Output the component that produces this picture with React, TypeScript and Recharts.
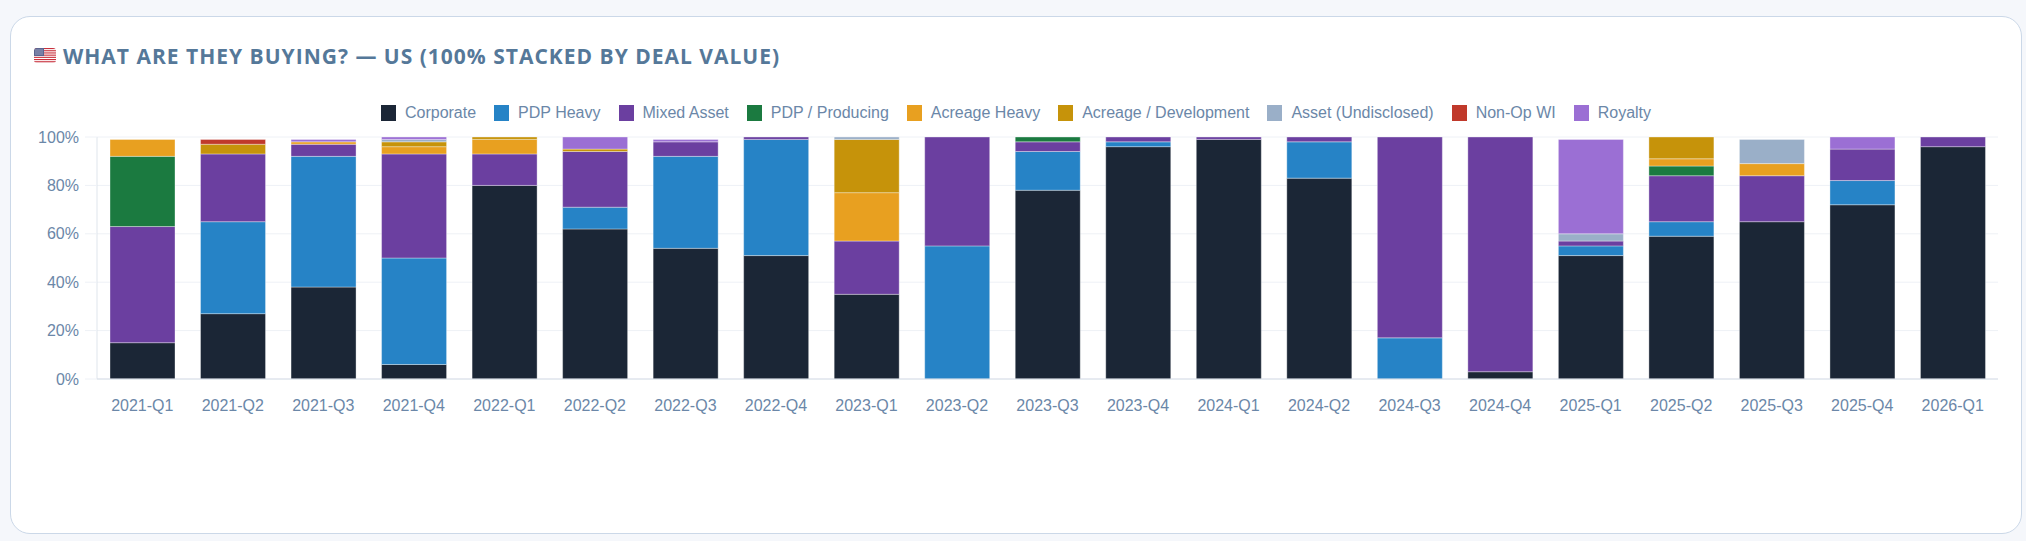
import React from "react";
import { BarChart, Bar, XAxis, YAxis, CartesianGrid } from "recharts";

// quarters on the x axis
const quarters = [
  "2021-Q1", "2021-Q2", "2021-Q3", "2021-Q4",
  "2022-Q1", "2022-Q2", "2022-Q3", "2022-Q4",
  "2023-Q1", "2023-Q2", "2023-Q3", "2023-Q4",
  "2024-Q1", "2024-Q2", "2024-Q3", "2024-Q4",
  "2025-Q1", "2025-Q2", "2025-Q3", "2025-Q4",
  "2026-Q1"
];

// share of deal value, % (rounded, so some columns sum to 99)
const corporate = [15, 27, 38, 6, 80, 62, 54, 51, 35, 0, 78, 96, 99, 83, 0, 3, 51, 59, 65, 72, 96];
const pdpHeavy = [0, 38, 54, 44, 0, 9, 38, 48, 0, 55, 16, 2, 0, 15, 17, 0, 4, 6, 0, 10, 0];
const mixedAsset = [48, 28, 5, 43, 13, 23, 6, 1, 22, 45, 4, 2, 1, 2, 83, 97, 2, 19, 19, 13, 4];
const pdpProducing = [29, 0, 0, 0, 0, 0, 0, 0, 0, 0, 2, 0, 0, 0, 0, 0, 0, 4, 0, 0, 0];
const acreageHeavy = [7, 0, 1, 3, 6, 0, 0, 0, 20, 0, 0, 0, 0, 0, 0, 0, 0, 3, 5, 0, 0];
const acreageDev = [0, 4, 0, 2, 1, 1, 0, 0, 22, 0, 0, 0, 0, 0, 0, 0, 0, 9, 0, 0, 0];
const assetUndisclosed = [0, 0, 0, 1, 0, 0, 0, 0, 1, 0, 0, 0, 0, 0, 0, 0, 3, 0, 10, 0, 0];
const nonOpWi = [0, 2, 0, 0, 0, 0, 0, 0, 0, 0, 0, 0, 0, 0, 0, 0, 0, 0, 0, 0, 0];
const royalty = [0, 0, 1, 1, 0, 5, 1, 0, 0, 0, 0, 0, 0, 0, 0, 0, 39, 0, 0, 5, 0];

const yTicks = [0, 20, 40, 60, 80, 100];

const series = [
  { key: "corporate", name: "Corporate", values: corporate, color: "#1b2636" },
  { key: "pdpHeavy", name: "PDP Heavy", values: pdpHeavy, color: "#2683c6" },
  { key: "mixedAsset", name: "Mixed Asset", values: mixedAsset, color: "#6b3fa0" },
  { key: "pdpProducing", name: "PDP / Producing", values: pdpProducing, color: "#1b7a40" },
  { key: "acreageHeavy", name: "Acreage Heavy", values: acreageHeavy, color: "#e8a020" },
  { key: "acreageDev", name: "Acreage / Development", values: acreageDev, color: "#c6930a" },
  { key: "assetUndisclosed", name: "Asset (Undisclosed)", values: assetUndisclosed, color: "#9aafc8" },
  { key: "nonOpWi", name: "Non-Op WI", values: nonOpWi, color: "#c0392b" },
  { key: "royalty", name: "Royalty", values: royalty, color: "#9b6fd4" }
];

const data = quarters.map((q, i) => {
  const row: Record<string, string | number> = { quarter: q };
  series.forEach(s => {
    row[s.key] = s.values[i];
  });
  return row;
});

const FONT = "'Liberation Sans', Arial, sans-serif";
const TEXT = "#6b87a8";

function Flag() {
  const stripes = [0, 1, 2, 3, 4, 5, 6];
  return (
    <svg width={22} height={15} style={{ position: "absolute", left: 34, top: 48 }}>
      <defs>
        <clipPath id="flagClip">
          <rect x={0} y={0} width={22} height={15} rx={3} />
        </clipPath>
      </defs>
      <g clipPath="url(#flagClip)">
        <rect x={0} y={0} width={22} height={15} fill="#ffffff" />
        {stripes.map(i => (
          <rect key={i} x={0} y={i * 2.2} width={22} height={1.1} fill="#c8303c" />
        ))}
        <rect x={0} y={0} width={10} height={8} fill="#5b6590" />
        <rect x={1} y={1} width={8} height={6} fill="#8c93b5" opacity={0.6} />
      </g>
    </svg>
  );
}

export default function App() {
  return (
    <div
      style={{
        position: "absolute",
        left: 0,
        top: 0,
        width: 2026,
        height: 541,
        background: "#f5f7fb",
        overflow: "hidden"
      }}
    >
      {/* card */}
      <div
        style={{
          position: "absolute",
          left: 10,
          top: 16,
          width: 2012,
          height: 518,
          boxSizing: "border-box",
          border: "1px solid #cbd8e8",
          borderRadius: 20,
          background: "#ffffff"
        }}
      />
      <Flag />
      <div
        style={{
          position: "absolute",
          left: 63,
          top: 46,
          fontFamily: "'Open Sans', sans-serif",
          fontWeight: 700,
          fontSize: 21,
          lineHeight: "20px",
          letterSpacing: 1,
          color: "#557899",
          whiteSpace: "nowrap"
        }}
      >
        WHAT ARE THEY BUYING? — US (100% STACKED BY DEAL VALUE)
      </div>

      {/* legend */}
      <div
        style={{
          position: "absolute",
          left: 10,
          width: 2012,
          top: 105,
          height: 16,
          display: "flex",
          justifyContent: "center",
          alignItems: "center",
          fontFamily: FONT,
          fontSize: 16,
          color: TEXT
        }}
      >
        {series.map((s, i) => (
          <div
            key={s.key}
            style={{
              display: "flex",
              alignItems: "center",
              marginRight: i === series.length - 1 ? 0 : 18
            }}
          >
            <span
              style={{
                display: "inline-block",
                width: 15,
                height: 16,
                background: s.color,
                marginRight: 9
              }}
            />
            <span style={{ whiteSpace: "nowrap" }}>{s.name}</span>
          </div>
        ))}
      </div>

      <div style={{ position: "absolute", left: 0, top: 0 }}>
        <BarChart
          width={2026}
          height={460}
          data={data}
          margin={{ top: 137, right: 28, bottom: 41, left: 0 }}
          barCategoryGap="28%"
        >
          <CartesianGrid stroke="#eef1f6" vertical={false} />
          <YAxis
            type="number"
            domain={[0, 100]}
            ticks={yTicks}
            interval={0}
            width={97}
            tickFormatter={(v: number) => `${v}%`}
            tick={{ fill: TEXT, fontSize: 16, fontFamily: FONT }}
            tickSize={12}
            tickMargin={6}
            tickLine={{ stroke: "#eef1f6" }}
            axisLine={{ stroke: "#dfe5ec" }}
          />
          <XAxis
            dataKey="quarter"
            height={40}
            interval={0}
            tick={{ fill: TEXT, fontSize: 16, fontFamily: FONT }}
            tickSize={0}
            tickMargin={21}
            tickLine={false}
            axisLine={{ stroke: "#d6dde6" }}
          />
          {series.map(s => (
            <Bar
              key={s.key}
              dataKey={s.key}
              name={s.name}
              stackId="deal"
              barSize={65}
              fill={s.color}
              stroke="rgba(255,255,255,0.35)"
              strokeWidth={1}
              isAnimationActive={false}
            />
          ))}
        </BarChart>
      </div>
    </div>
  );
}
